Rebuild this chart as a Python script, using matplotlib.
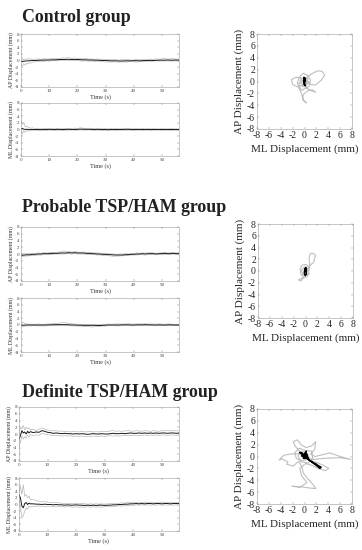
import numpy as np
import matplotlib
matplotlib.use("Agg")
import matplotlib.pyplot as plt

plt.rcParams['font.family'] = ['Liberation Serif', 'DejaVu Serif']
plt.rcParams['axes.unicode_minus'] = False

W, H = 362, 550

# time base (s): finer at the start, then 1 s steps
t = [0, 0.5, 1, 1.5, 2, 2.5, 3, 3.5, 4] + list(range(5, 57))

groups = ["Control group", "Probable TSP/HAM group", "Definite TSP/HAM group"]

# ---- control group time series ----
ctrl_ap_mean = [-0.4,-0.3,-0.2,-0.2,-0.1,-0.1,-0.1,0.0,0.0,
    0.0,0.05,0.1,0.1,0.15,0.15,0.2,0.2,0.25,0.3,
    0.3,0.35,0.35,0.3,0.3,0.3,0.25,0.2,0.2,0.15,
    0.15,0.1,0.1,0.05,0.0,0.0,-0.05,-0.1,-0.1,-0.1,
    -0.15,-0.15,-0.1,-0.1,-0.1,-0.05,-0.05,-0.1,-0.05,0.0,
    0.0,0.05,0.0,0.05,0.1,0.1,0.1,0.15,0.1,0.1,
    0.15,0.1]
ctrl_ap_hi = [0.3,0.6,0.2,0.5,0.3,0.6,0.4,0.5,0.3,
    0.4,0.5,0.3,0.6,0.4,0.5,0.6,0.5,0.7,0.6,
    0.8,0.7,0.9,0.6,0.8,0.5,0.7,0.5,0.6,0.4,
    0.5,0.3,0.5,0.3,0.4,0.2,0.3,0.2,0.3,0.2,
    0.1,0.3,0.2,0.3,0.1,0.2,0.3,0.2,0.3,0.4,
    0.3,0.4,0.3,0.5,0.4,0.5,0.6,0.4,0.5,0.6,
    0.4,0.5]
ctrl_ap_lo = [-1.2,-1.6,-0.9,-1.4,-0.8,-1.0,-0.6,-0.8,-0.5,
    -0.4,-0.3,-0.2,-0.3,-0.1,-0.2,0.0,-0.1,0.0,0.1,
    0.0,0.1,0.0,0.1,-0.1,0.0,-0.1,-0.2,-0.1,-0.2,
    -0.2,-0.3,-0.2,-0.4,-0.3,-0.5,-0.4,-0.5,-0.4,-0.5,
    -0.5,-0.4,-0.5,-0.4,-0.3,-0.4,-0.5,-0.4,-0.3,-0.3,
    -0.2,-0.3,-0.2,-0.1,-0.2,-0.1,-0.2,-0.1,-0.2,-0.1,
    -0.2,-0.1]
ctrl_ml_mean = [0.2,0.3,0.1,0.0,0.1,0.0,0.0,0.05,0.0,
    0.0,0.0,-0.05,0.0,0.0,0.05,0.0,0.0,0.05,0.0,
    0.0,0.05,0.05,0.0,0.0,0.05,0.1,0.1,0.05,0.05,
    0.05,0.0,0.05,0.0,0.0,0.0,-0.05,0.0,0.0,0.0,
    0.0,0.0,0.05,0.05,0.0,0.0,0.0,0.0,0.0,0.0,
    0.0,0.0,0.0,0.0,0.0,0.0,0.0,0.0,0.0,0.0,
    0.0,0.0]
ctrl_ml_hi = [2.8,1.5,2.2,0.8,1.0,0.6,0.5,0.4,0.5,
    0.3,0.4,0.2,0.3,0.3,0.2,0.3,0.2,0.3,0.2,
    0.3,0.2,0.3,0.3,0.4,0.3,0.5,0.4,0.3,0.4,
    0.3,0.2,0.4,0.3,0.2,0.3,0.2,0.3,0.2,0.3,
    0.2,0.3,0.4,0.3,0.4,0.2,0.3,0.2,0.3,0.2,
    0.3,0.2,0.3,0.2,0.2,0.3,0.2,0.2,0.3,0.2,
    0.2,0.2]
ctrl_ml_lo = [-0.5,-1.2,-0.4,-0.8,-0.3,-0.5,-0.3,-0.4,-0.2,
    -0.2,-0.3,-0.2,-0.2,-0.3,-0.2,-0.2,-0.3,-0.2,-0.2,
    -0.3,-0.2,-0.2,-0.1,-0.2,-0.2,-0.1,-0.2,-0.2,-0.1,
    -0.2,-0.3,-0.2,-0.2,-0.3,-0.2,-0.3,-0.2,-0.2,-0.3,
    -0.2,-0.2,-0.3,-0.2,-0.2,-0.3,-0.2,-0.2,-0.3,-0.2,
    -0.2,-0.3,-0.2,-0.2,-0.2,-0.3,-0.2,-0.2,-0.3,-0.2,
    -0.2,-0.2]

# ---- probable TSP/HAM time series ----
prob_ap_mean = [-0.3,-0.4,-0.3,-0.3,-0.2,-0.3,-0.2,-0.2,-0.1,
    -0.1,0.0,0.0,0.1,0.1,0.1,0.2,0.2,0.2,0.3,
    0.3,0.3,0.4,0.3,0.4,0.3,0.3,0.3,0.2,0.2,
    0.1,0.1,0.0,0.0,-0.1,-0.1,-0.2,-0.2,-0.3,-0.3,
    -0.3,-0.3,-0.2,-0.2,-0.1,-0.1,0.0,0.0,0.1,0.0,
    0.1,0.1,0.1,0.0,0.1,0.1,0.2,0.1,0.1,0.2,
    0.1,0.1]
prob_ap_hi = [0.1,0.0,0.2,0.0,0.1,0.1,0.2,0.0,0.2,
    0.2,0.3,0.2,0.4,0.3,0.4,0.5,0.4,0.5,0.6,
    0.9,0.8,0.7,0.6,0.7,0.6,0.5,0.6,0.5,0.4,
    0.4,0.3,0.3,0.2,0.2,0.1,0.1,0.0,0.0,-0.1,
    0.0,0.0,0.1,0.0,0.2,0.1,0.3,0.2,0.3,0.3,
    0.3,0.4,0.3,0.2,0.3,0.4,0.4,0.3,0.4,0.5,
    0.3,0.4]
prob_ap_lo = [-0.7,-0.8,-0.6,-0.7,-0.5,-0.6,-0.5,-0.5,-0.4,
    -0.4,-0.3,-0.3,-0.2,-0.2,-0.2,-0.1,0.0,0.0,0.0,
    0.0,0.1,0.1,0.0,0.1,0.0,0.0,0.0,-0.1,-0.1,
    -0.2,-0.2,-0.3,-0.3,-0.4,-0.5,-0.5,-0.6,-0.7,-0.6,
    -0.6,-0.5,-0.5,-0.4,-0.3,-0.3,-0.3,-0.2,-0.2,-0.3,
    -0.2,-0.1,-0.2,-0.2,-0.1,-0.2,-0.1,-0.1,-0.1,0.0,
    -0.1,-0.1]
prob_ml_mean = [-0.1,0.0,-0.1,0.0,0.0,0.0,0.0,0.0,0.0,
    0.0,0.0,0.0,0.0,0.0,0.05,0.05,0.1,0.1,0.1,
    0.1,0.1,0.05,0.0,0.0,-0.05,-0.05,-0.1,-0.1,-0.1,
    -0.1,-0.1,-0.15,-0.15,-0.1,-0.05,0.0,0.0,0.0,0.0,
    0.0,0.05,0.05,0.05,0.0,0.0,0.05,0.05,0.05,0.1,
    0.05,0.05,0.0,0.0,0.05,0.0,0.0,0.05,0.05,0.0,
    0.0,0.0]
prob_ml_hi = [0.5,0.9,0.6,0.4,0.3,0.3,0.2,0.3,0.2,
    0.2,0.3,0.2,0.2,0.3,0.3,0.4,0.5,0.5,0.6,
    0.7,0.6,0.5,0.4,0.3,0.2,0.2,0.2,0.1,0.2,
    0.1,0.2,0.1,0.1,0.2,0.2,0.3,0.2,0.3,0.3,
    0.3,0.3,0.3,0.4,0.3,0.3,0.3,0.4,0.3,0.4,
    0.3,0.3,0.3,0.3,0.3,0.3,0.2,0.3,0.3,0.2,
    0.2,0.2]
prob_ml_lo = [-0.5,-0.6,-0.4,-0.3,-0.3,-0.3,-0.2,-0.3,-0.2,
    -0.2,-0.3,-0.2,-0.3,-0.2,-0.2,-0.2,-0.1,-0.1,-0.1,
    -0.1,-0.1,-0.2,-0.2,-0.3,-0.3,-0.3,-0.4,-0.5,-0.4,
    -0.6,-0.5,-0.5,-0.4,-0.3,-0.3,-0.2,-0.2,-0.2,-0.3,
    -0.2,-0.2,-0.2,-0.2,-0.2,-0.2,-0.2,-0.2,-0.2,-0.1,
    -0.2,-0.2,-0.2,-0.2,-0.2,-0.2,-0.2,-0.2,-0.2,-0.2,
    -0.2,-0.2]

# ---- definite TSP/HAM time series ----
def_ap_mean = [-1.5,-0.5,1.0,0.3,0.6,0.0,0.8,0.3,0.7,
    0.4,0.6,0.5,1.0,0.8,0.5,0.4,0.2,0.3,0.2,
    0.1,0.2,0.1,0.1,0.0,0.1,0.0,0.1,0.0,-0.1,
    0.0,0.1,0.0,0.0,0.1,0.0,0.0,0.1,0.2,0.1,
    0.1,0.2,0.1,0.2,0.3,0.2,0.2,0.3,0.2,0.3,
    0.2,0.3,0.2,0.3,0.2,0.3,0.3,0.2,0.3,0.3,
    0.2,0.3]
def_ap_hi = [0.5,2.0,1.5,2.5,1.2,2.0,1.5,1.8,1.2,
    1.4,1.0,1.5,1.8,1.5,1.2,1.0,0.9,1.0,0.8,
    0.9,0.7,0.8,0.6,0.8,0.7,0.6,0.8,0.6,0.7,
    0.8,0.6,0.7,0.6,0.8,0.7,0.7,0.9,1.0,0.8,
    0.9,0.8,0.9,1.0,0.9,0.8,1.0,0.9,0.8,1.0,
    0.9,0.8,1.0,0.9,0.8,1.0,0.9,1.1,0.9,1.0,
    0.9,1.0]
def_ap_lo = [-3.5,-2.5,-0.5,-1.5,-0.8,-1.2,-0.3,-0.9,-0.2,
    -0.5,-0.2,-0.4,0.2,0.0,-0.2,-0.3,-0.5,-0.4,-0.5,
    -0.6,-0.5,-0.6,-0.5,-0.7,-0.6,-0.7,-0.6,-0.7,-0.8,
    -0.7,-0.6,-0.7,-0.7,-0.6,-0.7,-0.6,-0.5,-0.6,-0.5,
    -0.6,-0.5,-0.4,-0.5,-0.4,-0.5,-0.4,-0.5,-0.4,-0.3,
    -0.4,-0.3,-0.4,-0.3,-0.4,-0.3,-0.3,-0.4,-0.3,-0.3,
    -0.4,-0.3]
def_ml_mean = [3.0,2.0,-0.5,-1.0,0.3,0.6,0.0,0.4,0.2,
    0.2,0.1,0.1,0.0,0.1,0.0,0.0,-0.1,0.0,-0.1,
    -0.1,-0.2,-0.1,-0.2,-0.2,-0.1,-0.2,-0.2,-0.3,-0.2,
    -0.3,-0.2,-0.3,-0.2,-0.2,-0.3,-0.2,-0.2,-0.1,-0.1,
    0.0,0.0,0.1,0.1,0.2,0.2,0.3,0.2,0.3,0.2,
    0.3,0.3,0.2,0.3,0.3,0.2,0.3,0.3,0.2,0.3,
    0.3,0.3]
def_ml_hi = [4.0,5.5,3.0,6.0,2.5,3.0,2.0,2.5,1.5,
    1.5,1.2,1.0,0.8,0.9,0.7,0.6,0.5,0.6,0.5,
    0.4,0.3,0.4,0.3,0.2,0.3,0.2,0.3,0.2,0.1,
    0.2,0.1,0.2,0.1,0.2,0.1,0.2,0.3,0.2,0.3,
    0.4,0.5,0.4,0.6,0.5,0.7,0.6,0.7,0.6,0.7,
    0.6,0.7,0.6,0.7,0.6,0.7,0.6,0.7,0.6,0.7,
    0.6,0.7]
def_ml_lo = [1.5,-1.0,-4.0,-3.5,-2.0,-1.0,-1.5,-0.5,-0.8,
    -0.5,-0.6,-0.4,-0.6,-0.5,-0.6,-0.5,-0.7,-0.6,-0.7,
    -0.6,-0.7,-0.6,-0.7,-0.8,-0.7,-0.8,-0.7,-0.8,-0.7,
    -0.8,-0.7,-0.8,-0.7,-0.8,-0.7,-0.6,-0.7,-0.6,-0.5,
    -0.4,-0.5,-0.3,-0.4,-0.2,-0.3,-0.1,-0.2,-0.1,-0.2,
    -0.1,-0.2,-0.1,-0.2,-0.1,-0.2,-0.1,-0.2,-0.1,-0.2,
    -0.1,-0.2]

# ---- stabilogram paths (ML, AP) in mm ----
ctrl_path_ml = [0,0.5,1.2,2.2,3.0,3.4,2.8,1.8,1.0,0.4,-0.5,-1.5,-2.2,-2.0,-1.2,-0.3,0.5,1.2,1.9,1.3,
    0.5,-0.2,-0.3,0.3,-0.2,-0.5,-0.9,-1.2,-0.8,-0.2,0.6,1.0,0.8,-0.5,-1.0,-0.6,0.3,0.7,-0.6,0.5,
    -0.4,0.6,-0.7,0.4,0.0]
ctrl_path_ap = [0,0.8,1.3,1.8,1.7,1.0,0.2,-0.6,-0.5,0.2,0.6,0.7,0.3,-0.5,-0.9,-0.6,-1.2,-1.6,-1.8,-1.4,
    -1.6,-2.2,-3.0,-3.6,-3.2,-2.0,-1.2,-0.2,0.8,1.4,1.0,0.2,-0.8,-1.5,-0.6,0.4,0.6,-0.3,0.2,-0.4,
    -0.9,0.5,-0.3,-1.0,0.0]
ctrl_mean_ml = [0,0.1,-0.1,0.1,-0.1,0.1,0.0,-0.1,0.05,0]
ctrl_mean_ap = [0,0.5,0.7,0.2,-0.4,-0.7,-0.3,0.3,0.6,0]

prob_path_ml = [0,0.5,0.7,0.6,0.8,1.3,1.7,1.5,1.4,0.8,0.4,0.6,0.2,-0.5,-1.2,-0.8,-0.3,-0.8,-0.9,-0.6,
    0.1,0.7,0.4,-0.4,-0.7,-0.2,0.5,0.0,0.0]
prob_path_ap = [0,0.6,1.2,2.2,3.0,3.0,2.7,2.0,1.5,1.0,0.3,-0.5,-1.0,-1.2,-1.5,-1.7,-1.1,-0.5,0.3,1.0,
    1.1,0.5,-0.6,-0.7,0.1,0.7,0.2,-0.3,0.0]
prob_mean_ml = [0,0.15,0.05,-0.15,-0.2,-0.05,0.15,0.1,-0.1,0]
prob_mean_ap = [0,0.4,0.6,0.2,-0.4,-0.8,-0.5,0.1,0.3,0]

def_path_ml = [0,-0.8,-1.6,-1.9,-1.2,-0.6,0.3,1.2,1.9,1.7,1.0,1.8,3.0,4.3,6.0,7.8,6.0,3.5,1.5,0.5,
    -1.0,-2.5,-3.5,-4.3,-3.8,-2.8,-3.0,-1.9,-1.0,-0.4,-0.2,0.6,1.5,1.9,0.8,-0.6,-2.1,-0.8,0.4,-0.5,
    -0.8,0.2,1.3,2.3,3.5,4.1,3.0,1.5,0.5,-0.5,-1.4,-1.6,-0.9,0.2,1.2,1.4,0.6,-0.6,-1.1,-0.4,
    0.5,0.8,0.0,-0.3,0]
def_path_ap = [0,0.8,1.8,2.5,2.8,2.0,1.5,1.8,2.5,1.2,0.4,0.0,0.3,0.6,0.0,-0.5,-0.2,-0.3,-0.5,-0.2,
    0.5,0.4,0.2,-0.6,-0.4,-0.9,-1.3,-1.6,-0.8,-1.8,-2.8,-3.8,-4.8,-5.4,-5.3,-5.1,-5.0,-5.2,-4.4,-3.2,
    -2.0,-1.2,-1.5,-2.0,-2.4,-2.0,-1.4,-0.8,-0.5,-0.7,-0.3,0.7,1.4,1.0,0.9,-0.4,-1.1,-0.9,0.2,0.9,
    0.5,-0.3,-0.4,0.3,0]
def_mean_ml = [0,-0.4,-0.8,-0.2,0.3,0.1,-0.5,0.4,0.6,-0.2,0.2,0.8,1.4,2.0,2.4,2.8,2.6,2.0,1.2,0.4,0]
def_mean_ap = [0,0.6,0.7,0.2,0.9,-0.2,0.1,0.4,-0.3,-0.3,0.1,-0.6,-1.0,-1.3,-1.6,-1.8,-2.0,-1.5,-0.9,-0.3,0]

series = [
    (ctrl_ap_mean, ctrl_ap_hi, ctrl_ap_lo, ctrl_ml_mean, ctrl_ml_hi, ctrl_ml_lo),
    (prob_ap_mean, prob_ap_hi, prob_ap_lo, prob_ml_mean, prob_ml_hi, prob_ml_lo),
    (def_ap_mean, def_ap_hi, def_ap_lo, def_ml_mean, def_ml_hi, def_ml_lo),
]
paths = [
    (ctrl_path_ml, ctrl_path_ap, ctrl_mean_ml, ctrl_mean_ap),
    (prob_path_ml, prob_path_ap, prob_mean_ml, prob_mean_ap),
    (def_path_ml, def_path_ap, def_mean_ml, def_mean_ap),
]

# layout in pixels: title baseline, AP box, ML box, stabilogram box
title_y = [22, 212, 397]
ap_box = [(21, 34, 179, 87), (21, 227, 179, 281), (19, 407, 179, 461)]
ml_box = [(21, 103, 179, 156), (21, 298, 179, 352), (19, 478, 179, 531)]
xy_box = [(257, 34, 352, 129), (258, 224, 353, 318), (257, 409, 352, 504)]

fig = plt.figure(figsize=(W / 100, H / 100), dpi=100)


def add_px(box):
    l, tp, r, b = box
    return fig.add_axes([l / W, 1 - b / H, (r - l) / W, (b - tp) / H])


def style_ts(ax, ylabel):
    ax.set_xlim(0, 56)
    ax.set_ylim(-8, 8)
    ax.set_xticks([0, 10, 20, 30, 40, 50])
    ax.set_yticks(range(-8, 9, 2))
    ax.tick_params(direction='in', length=1.5, width=0.3, labelsize=3.6,
                   pad=1.2, top=True, right=True, colors='0.45', labelcolor='0.25')
    for s in ax.spines.values():
        s.set_linewidth(0.4)
        s.set_color('0.6')
    ax.set_xlabel('Time (s)', fontsize=4.5, labelpad=1, color='0.2')
    ax.set_ylabel(ylabel, fontsize=4.2, labelpad=1, color='0.2')


for i in range(3):
    fig.text(22 / W, 1 - title_y[i] / H, groups[i], fontsize=12.9, fontweight='bold',
             va='baseline', ha='left', color='#222222')
    ap_m, ap_h, ap_l, ml_m, ml_h, ml_l = series[i]

    ax = add_px(ap_box[i])
    ax.plot(t, ap_h, color='0.72', lw=0.5)
    ax.plot(t, ap_l, color='0.72', lw=0.5)
    ax.plot(t, ap_m, color='0.1', lw=0.7)
    style_ts(ax, 'AP Displacement (mm)')

    ax = add_px(ml_box[i])
    ax.plot(t, ml_h, color='0.72', lw=0.5)
    ax.plot(t, ml_l, color='0.72', lw=0.5)
    ax.plot(t, ml_m, color='0.1', lw=0.7)
    style_ts(ax, 'ML Displacement (mm)')

    px, py, mx, my = paths[i]
    ax = add_px(xy_box[i])
    ax.plot(px, py, color='0.75', lw=0.8)
    ax.plot(mx, my, color='black', lw=1.1)
    ax.set_xlim(-8, 8)
    ax.set_ylim(-8, 8)
    ax.set_xticks(range(-8, 9, 2))
    ax.set_yticks(range(-8, 9, 2))
    ax.tick_params(direction='in', length=1.5, width=0.3, labelsize=7,
                   pad=1.5, top=True, right=True, colors='0.5', labelcolor='0.15')
    for s in ax.spines.values():
        s.set_linewidth(0.4)
        s.set_color('0.6')
    ax.set_xlabel('ML Displacement (mm)', fontsize=8, labelpad=3, color='0.15')
    ax.set_ylabel('AP Displacement (mm)', fontsize=8, labelpad=2, color='0.15')

fig.savefig('out.png', dpi=100)
